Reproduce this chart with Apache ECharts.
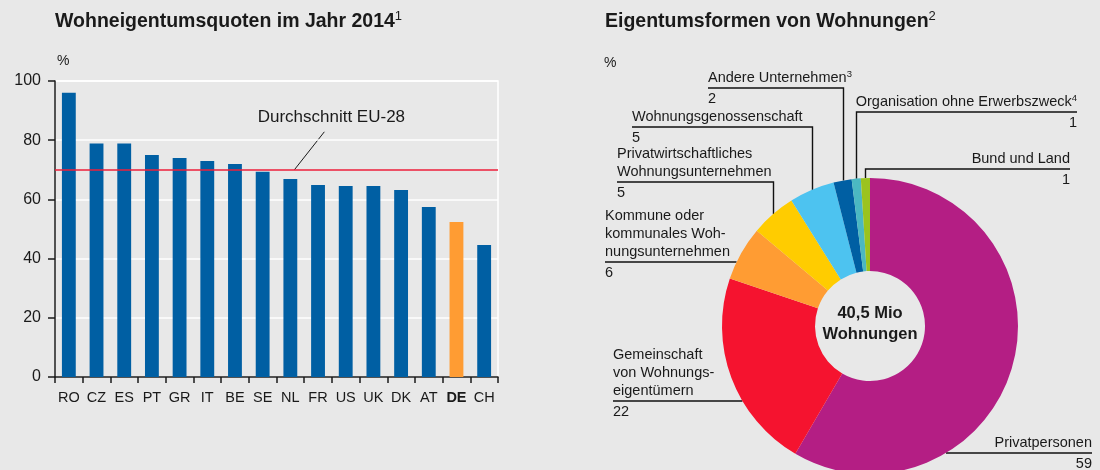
<!DOCTYPE html>
<html>
<head>
<meta charset="utf-8">
<script src="https://cdn.jsdelivr.net/npm/echarts@6/dist/echarts.min.js"></script>
<style>
  html, body { margin: 0; padding: 0; background: #e8e8e8; }
  #chart { width: 1100px; height: 470px; }
</style>
</head>
<body>
<div id="chart"></div>
<script>
// Wohneigentumsquoten im Jahr 2014, in %
const countries = ['RO', 'CZ', 'ES', 'PT', 'GR', 'IT', 'BE', 'SE', 'NL', 'FR', 'US', 'UK', 'DK', 'AT', 'DE', 'CH'];
const ownershipRates = [96, 78.9, 78.9, 75, 74, 73, 72, 69.3, 66.9, 64.9, 64.5, 64.5, 63.2, 57.4, 52.4, 44.6];
const euAverage = [70];
const rateAxis = { min: 0, max: 100, step: 20 };

// Eigentumsformen von Wohnungen, Anteile in %
const ownerTypes = ['Privatpersonen', 'Gemeinschaft von Wohnungseigentümern', 'Kommune oder kommunales Wohnungsunternehmen',
  'Privatwirtschaftliches Wohnungsunternehmen', 'Wohnungsgenossenschaft', 'Andere Unternehmen', 'Organisation ohne Erwerbszweck', 'Bund und Land'];
// displayed names; "^n" marks a footnote number
const ownerLabels = ['Privatpersonen', 'Gemeinschaft\nvon Wohnungs-\neigentümern', 'Kommune oder\nkommunales Woh-\nnungsunternehmen',
  'Privatwirtschaftliches\nWohnungsunternehmen', 'Wohnungsgenossenschaft', 'Andere Unternehmen^3', 'Organisation ohne Erwerbszweck^4', 'Bund und Land'];
const ownerShares = [59, 22, 6, 5, 5, 2, 1, 1];
const totalDwellings = ['40,5 Mio', 'Wohnungen'];

// colours and type
const BLUE = '#005fa3', ORANGE = '#ff9c33', RED_LINE = '#ee1f3b', INK = '#1a1a1a', BG = '#e8e8e8';
const sliceColors = ['#b41e84', '#f5132f', '#ff9c33', '#ffcc00', '#4dc3f0', '#005fa3', '#4bb8c2', '#9bc31e'];
const FONT = '"Liberation Sans", Arial, sans-serif';
const LABEL_SIZE = 14.5;

// donut geometry
const PIE_C = [870, 326];
const PIE_R = [55, 148];

// callout placement for each slice: text anchor x, y of the rule under the name,
// and whether the leader drops vertically onto the slice
const callouts = [
  { side: 'right', x: 1092, ruleY: 453, drop: false },
  { side: 'left',  x: 613,  ruleY: 401, drop: false },
  { side: 'left',  x: 605,  ruleY: 262, drop: false },
  { side: 'left',  x: 617,  ruleY: 182, drop: true },
  { side: 'left',  x: 632,  ruleY: 127, drop: true },
  { side: 'left',  x: 708,  ruleY: 88,  drop: true },
  { side: 'right', x: 1077, ruleY: 112, drop: true },
  { side: 'right', x: 1070, ruleY: 169, drop: true }
];
const NAME_LH = 18, VALUE_LH = 24;

const shareTotal = ownerShares.reduce((a, b) => a + b, 0);
function midAngle(i) {
  let before = 0;
  for (let k = 0; k < i; k++) before += ownerShares[k];
  return (before + ownerShares[i] / 2) / shareTotal * Math.PI * 2; // clockwise from 12 o'clock
}

// turn "text^n" into rich tokens with a raised footnote number
function withFootnote(line, base, sup) {
  const m = line.match(/^(.*)\^(\d)$/);
  return m ? `{${base}|${m[1]}}{${sup}|${m[2]}}` : `{${base}|${line}}`;
}

const titleRich = {
  t: { font: 'bold 19.5px ' + FONT, fill: INK, lineHeight: 24 },
  s: { font: '13px ' + FONT, fill: INK, lineHeight: 24, verticalAlign: 'top' }
};

const chart = echarts.init(document.getElementById('chart'), null, { renderer: 'canvas' });

const option = {
  backgroundColor: BG,
  animation: false,
  textStyle: { fontFamily: FONT, color: INK },
  grid: {
    left: 55, top: 81, width: 443, height: 296,
    show: true, borderColor: '#ffffff', borderWidth: 1.5, backgroundColor: 'transparent'
  },
  xAxis: {
    type: 'category',
    data: countries,
    axisLine: { lineStyle: { color: INK, width: 1.5 } },
    axisTick: { show: true, length: 6, interval: 0, lineStyle: { color: INK, width: 1.5 } },
    axisLabel: {
      interval: 0, margin: 13, fontSize: 14.5, color: INK, fontFamily: FONT,
      formatter: v => v === 'DE' ? '{b|DE}' : v,
      rich: { b: { fontWeight: 'bold', fontSize: 14.5, color: INK, fontFamily: FONT } }
    }
  },
  yAxis: {
    type: 'value',
    min: rateAxis.min, max: rateAxis.max, interval: rateAxis.step,
    name: '%', nameLocation: 'end', nameGap: 13,
    nameTextStyle: { align: 'left', fontSize: 14, color: INK, fontFamily: FONT, padding: [0, 0, 0, 2] },
    axisLine: { show: true, lineStyle: { color: INK, width: 1.5 } },
    axisTick: { show: true, length: 7, lineStyle: { color: INK, width: 1.5 } },
    axisLabel: { fontSize: 16, color: INK, margin: 14, fontFamily: FONT },
    splitLine: { show: true, lineStyle: { color: '#ffffff', width: 1.5 } }
  },
  series: [
    {
      type: 'bar',
      data: ownershipRates,
      barCategoryGap: '50%',
      itemStyle: { color: p => countries[p.dataIndex] === 'DE' ? ORANGE : BLUE },
      markLine: {
        silent: true,
        symbol: 'none',
        label: { show: false },
        lineStyle: { color: RED_LINE, width: 1.5, type: 'solid' },
        data: [{ yAxis: euAverage[0] }]
      }
    },
    {
      type: 'pie',
      center: PIE_C,
      radius: PIE_R,
      startAngle: 90,
      clockwise: true,
      avoidLabelOverlap: false,
      silent: true,
      data: ownerTypes.map((name, i) => ({ name, value: ownerShares[i], itemStyle: { color: sliceColors[i] } })),
      label: {
        show: true,
        position: 'outside',
        overflow: 'none',
        fontFamily: FONT,
        color: INK,
        formatter: p => {
          const i = p.dataIndex;
          const r = callouts[i].side === 'right' ? 'R' : 'L';
          return ownerLabels[i].split('\n').map(l => withFootnote(l, 'n' + r, 's' + r)).join('\n') +
            `\n{v${r}|${ownerShares[i]}}`;
        },
        rich: {
          nL: { fontSize: LABEL_SIZE, lineHeight: NAME_LH, color: INK, fontFamily: FONT, align: 'left' },
          sL: { fontSize: 9.5, lineHeight: 13, color: INK, fontFamily: FONT, align: 'left', verticalAlign: 'top' },
          vL: { fontSize: LABEL_SIZE, lineHeight: VALUE_LH, color: INK, fontFamily: FONT, align: 'left' },
          nR: { fontSize: LABEL_SIZE, lineHeight: NAME_LH, color: INK, fontFamily: FONT, align: 'right' },
          sR: { fontSize: 9.5, lineHeight: 13, color: INK, fontFamily: FONT, align: 'right', verticalAlign: 'top' },
          vR: { fontSize: LABEL_SIZE, lineHeight: VALUE_LH, color: INK, fontFamily: FONT, align: 'right' }
        }
      },
      labelLine: { show: true, smooth: false, length: 8, length2: 8, lineStyle: { color: '#111', width: 1.4 } },
      labelLayout: p => {
        const i = p.dataIndex;
        const c = callouts[i];
        const nLines = ownerLabels[i].split('\n').length;
        const [cx, cy] = PIE_C;
        const R = PIE_R[1];
        let pts;
        if (c.drop) {
          const a = midAngle(i);
          const ax = Math.round(cx + R * Math.sin(a)) + 0.5, ay = cy - R * Math.cos(a);
          pts = [[ax, ay], [ax, c.ruleY], [c.x, c.ruleY]];
        } else {
          const dy = c.ruleY - cy;
          const dx = Math.sqrt(R * R - dy * dy);
          const ex = c.side === 'left' ? cx - dx : cx + dx;
          pts = [[ex, c.ruleY], [ex, c.ruleY], [c.x, c.ruleY]];
        }
        return {
          x: c.x, y: c.ruleY - nLines * NAME_LH - 1,
          align: c.side, verticalAlign: 'top', width: 260,
          labelLinePoints: pts
        };
      }
    }
  ],
  graphic: [
    { type: 'text', x: 55, y: 10, style: { text: '{t|Wohneigentumsquoten im Jahr 2014}{s|1}', rich: titleRich } },
    { type: 'text', x: 605, y: 10, style: { text: '{t|Eigentumsformen von Wohnungen}{s|2}', rich: titleRich } },
    { type: 'text', x: 604, y: 63, style: { text: '%', font: '14px ' + FONT, fill: INK, verticalAlign: 'middle' } },
    {
      type: 'text', x: PIE_C[0], y: PIE_C[1] - 2, z: 10,
      style: { text: totalDwellings.join('\n'), font: 'bold 16.5px ' + FONT, lineHeight: 21, fill: INK, align: 'center', verticalAlign: 'middle' }
    }
  ]
};

chart.setOption(option);

// Callout for the EU-28 average line, anchored on the line above NL
const anchor = chart.convertToPixel({ xAxisIndex: 0, yAxisIndex: 0 }, ['NL', euAverage[0]]);
chart.setOption({
  graphic: option.graphic.concat([
    { type: 'line', shape: { x1: anchor[0] + 4, y1: anchor[1], x2: anchor[0] + 34, y2: anchor[1] - 38 }, style: { stroke: INK, lineWidth: 1 } },
    { type: 'text', x: anchor[0] + 41, y: anchor[1] - 52, style: { text: 'Durchschnitt EU-28', font: '17px ' + FONT, fill: INK, align: 'center', verticalAlign: 'middle' } }
  ])
});
</script>
</body>
</html>
